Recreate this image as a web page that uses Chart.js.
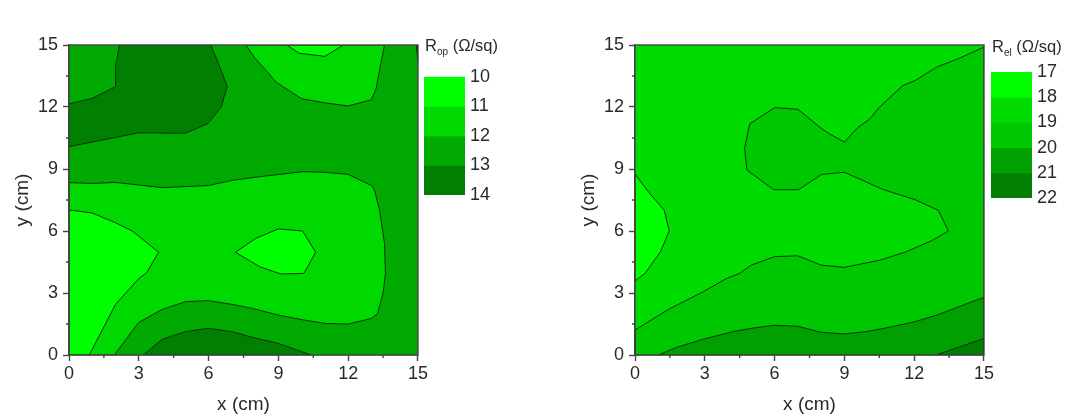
<!DOCTYPE html>
<html>
<head>
<meta charset="utf-8">
<script src="https://cdn.jsdelivr.net/npm/chart.js@4/dist/chart.umd.min.js"></script>
<style>
body { margin: 0; background: #fff; overflow: hidden; width: 1080px; height: 419px; position: relative; }
canvas { position: absolute; }
.head { position: absolute; font: 16.5px "Liberation Sans", Arial, sans-serif; color: #2a2a2a; white-space: nowrap; }
.head sub { font-size: 10px; line-height: 0; }
</style>
</head>
<body>
<canvas id="plotOp" width="430" height="419" style="left:0;top:0"></canvas>
<canvas id="scaleOp" width="80" height="170" style="left:424px;top:50px"></canvas>
<div class="head" style="left:425px;top:36px">R<sub>op</sub> (Ω/sq)</div>
<canvas id="plotEl" width="430" height="419" style="left:566px;top:0"></canvas>
<canvas id="scaleEl" width="80" height="175" style="left:991px;top:46px"></canvas>
<div class="head" style="left:992px;top:37px">R<sub>el</sub> (Ω/sq)</div>
<script>
const axisTicks = [0, 3, 6, 9, 12, 15];
const minorTicks = [1.5, 4.5, 7.5, 10.5, 13.5];

// contour bands, x/y in cm
const opFull = [[0,0],[15,0],[15,15],[0,15],[0,0]];
const opDarkTop = [[0,12.15],[1,12.42],[2,12.98],[2,13.95],[2.17,15],[6.1,15],[6.42,14.1],[6.8,13],[6.54,12],[5.97,11.2],[5,10.73],[3,10.75],[2,10.53],[0,10.08],[0,12.15]];
const opDarkBottom = [[3.2,0],[4,0.76],[5,1.13],[6,1.29],[7,1.13],[7.9,0.85],[9,0.56],[10.4,0],[3.2,0]];
const opDarkCorner = [[14.92,15],[15,14.2],[15,15],[14.92,15]];
const opMidTop = [[7.6,15],[8,14.35],[8.6,13.6],[8.9,13.2],[10,12.4],[11,12.2],[12,12.05],[13,12.35],[13.2,12.9],[13.56,15],[7.6,15]];
const opMidCentre = [[0,8.34],[1,8.3],[2,8.35],[4,8.1],[6,8.2],[7,8.45],[8.2,8.63],[10.06,8.87],[11,8.84],[12,8.74],[13,8.2],[13.13,7.98],[13.35,7],[13.56,5.4],[13.6,3.95],[13.5,3],[13.26,2],[13,1.77],[12,1.5],[11,1.53],[10.06,1.7],[9,1.93],[7.9,2.25],[7,2.45],[6,2.63],[5,2.58],[4,2.2],[3,1.58],[1.95,0],[0,0],[0,8.34]];
const opBrightTop = [[9.35,15],[9.9,14.6],[11,14.45],[11.8,15],[9.35,15]];
const opBrightLeft = [[0,7.02],[1,6.87],[2,6.4],[2.75,5.98],[3.85,4.97],[3.35,4],[3,3.7],[2,2.45],[0.87,0],[0,0],[0,7.02]];
const opBrightCentre = [[7.16,4.97],[8.04,5.65],[9,6.1],[10.04,6],[10.6,4.97],[10.1,3.95],[9.1,3.92],[8.2,4.27],[7.16,4.97]];

const elFull = [[0,0],[15,0],[15,15],[0,15],[0,0]];
const elMid = [[15,14.9],[13.93,14.35],[13,13.95],[12.07,13.3],[11.5,13.03],[10.5,11.98],[10.07,11.4],[9.57,11],[9,10.3],[8.36,10.7],[8,10.97],[7,11.89],[6,11.97],[4.93,11.18],[4.71,10],[4.81,8.95],[5.96,8],[7.03,8],[8.03,8.74],[9,8.84],[10.64,8.02],[12.07,7.5],[13.04,7],[13.47,6],[12.8,5.56],[11.67,5],[10.57,4.6],[9,4.24],[8,4.35],[7,4.8],[6,4.76],[5,4.35],[4.5,3.95],[3.93,3.7],[2.93,3.06],[1.43,2.2],[0,1.21],[0,0],[15,0],[15,14.9]];
const elLow = [[1,0],[1.79,0.37],[2.93,0.76],[4.2,1.13],[5,1.29],[6,1.44],[7,1.39],[8,1.1],[9,1.02],[9.93,1.13],[10.93,1.34],[12,1.6],[13.07,1.97],[13.93,2.34],[15,2.79],[15,0],[1,0]];
const elCorner = [[12.93,0],[13.64,0.27],[15,0.8],[15,0],[12.93,0]];
const elBrightLeft = [[0,8.76],[0.57,7.9],[1.26,7],[1.47,6],[1.1,5],[0.43,3.95],[0,3.58],[0,8.76]];

const opLevels = [10, 11, 12, 13, 14];
const opColors = ['#00ff00', '#00d900', '#00aa00', '#007f00'];
const elLevels = [17, 18, 19, 20, 21, 22];
const elColors = ['#00ff00', '#00dc00', '#00c800', '#00a000', '#007f00'];

const textColor = '#2a2a2a';
const axisColor = '#444';
const fontName = '"Liberation Sans", Arial, sans-serif';

function layer(points, color, outline) {
    return {
        data: points,
        showLine: true,
        fill: 'shape',
        backgroundColor: color,
        borderColor: '#063006',
        borderWidth: outline ? 1 : 0,
        pointRadius: 0,
        tension: 0
    };
}

// frame and the short unlabelled ticks, which Chart.js has no option for
const framePlugin = {
    id: 'frame',
    afterDraw(chart) {
        const { ctx, chartArea: a, scales } = chart;
        ctx.save();
        ctx.strokeStyle = axisColor;
        ctx.lineWidth = 1.4;
        ctx.strokeRect(a.left, a.top, a.right - a.left, a.bottom - a.top);
        ctx.beginPath();
        minorTicks.forEach(v => {
            const px = scales.x.getPixelForValue(v);
            const py = scales.y.getPixelForValue(v);
            ctx.moveTo(px, a.bottom);
            ctx.lineTo(px, a.bottom + 3);
            ctx.moveTo(a.left, py);
            ctx.lineTo(a.left - 3, py);
        });
        ctx.stroke();
        ctx.restore();
    }
};

function axis(title, fitSide, fitSize, titlePadding, tickPadding) {
    return {
        type: 'linear',
        min: axisTicks[0],
        max: axisTicks[axisTicks.length - 1],
        title: { display: true, text: title, color: textColor, font: { size: 19, family: fontName }, padding: titlePadding },
        ticks: { stepSize: 3, color: textColor, font: { size: 18, family: fontName }, padding: tickPadding, maxRotation: 0, autoSkip: false },
        grid: { drawOnChartArea: false, tickLength: 6, tickColor: axisColor, tickWidth: 1.4 },
        border: { color: axisColor, width: 1.4 },
        afterFit(scale) { scale[fitSide] = fitSize; }
    };
}

function contourChart(id, layers) {
    new Chart(document.getElementById(id), {
        type: 'scatter',
        data: { datasets: layers },
        options: {
            responsive: false,
            animation: false,
            layout: { autoPadding: false, padding: { top: 45, right: 11, left: 0, bottom: 0 } },
            plugins: { legend: { display: false }, tooltip: { enabled: false } },
            scales: {
                x: axis('x (cm)', 'height', 64, { top: 0, bottom: 3 }, 2),
                y: axis('y (cm)', 'width', 69, { top: 11, bottom: 0 }, 5)
            }
        },
        plugins: [framePlugin]
    });
}

function scaleChart(id, levels, colors, padTop, padBottom) {
    new Chart(document.getElementById(id), {
        type: 'bar',
        data: {
            labels: ['band'],
            datasets: colors.map((c, i) => ({
                data: [[levels[i], levels[i + 1]]],
                backgroundColor: c,
                borderWidth: 0,
                barPercentage: 1,
                categoryPercentage: 1,
                grouped: false
            }))
        },
        options: {
            responsive: false,
            animation: false,
            layout: { autoPadding: false, padding: { top: padTop, bottom: padBottom, left: 0, right: 0 } },
            plugins: { legend: { display: false }, tooltip: { enabled: false } },
            scales: {
                x: { display: false },
                y: {
                    position: 'right',
                    reverse: true,
                    min: levels[0],
                    max: levels[levels.length - 1],
                    ticks: { stepSize: 1, color: textColor, font: { size: 18, family: fontName }, padding: 5 },
                    grid: { display: false, drawTicks: false },
                    border: { display: false },
                    afterFit(scale) { scale.width = 39; }
                }
            }
        }
    });
}

// first dataset is painted last
contourChart('plotOp', [
    layer(opBrightTop, opColors[0], true),
    layer(opBrightLeft, opColors[0], true),
    layer(opBrightCentre, opColors[0], true),
    layer(opDarkTop, opColors[3], true),
    layer(opDarkBottom, opColors[3], true),
    layer(opDarkCorner, opColors[3], true),
    layer(opMidTop, opColors[1], true),
    layer(opMidCentre, opColors[1], true),
    layer(opFull, opColors[2], false)
]);
scaleChart('scaleOp', opLevels, opColors, 26.7, 25);

contourChart('plotEl', [
    layer(elBrightLeft, elColors[0], true),
    layer(elCorner, elColors[4], true),
    layer(elLow, elColors[3], true),
    layer(elMid, elColors[2], true),
    layer(elFull, elColors[1], false)
]);
scaleChart('scaleEl', elLevels, elColors, 26, 23);
</script>
</body>
</html>
